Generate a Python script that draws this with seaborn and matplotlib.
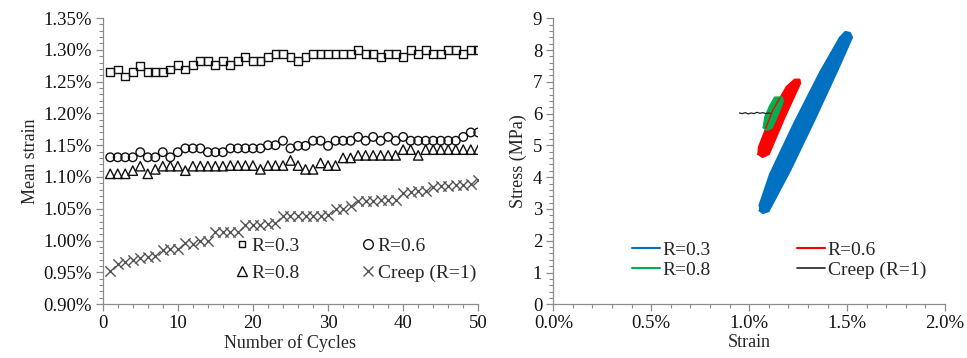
import matplotlib
matplotlib.use("Agg")
import matplotlib.pyplot as plt
import seaborn as sns
import pandas as pd
from matplotlib.lines import Line2D
from matplotlib.ticker import MultipleLocator, FuncFormatter

# ---------------- data: left panel (mean strain, %) ----------------
cycles = list(range(1, 51))
r03 = [1.265, 1.269, 1.258, 1.265, 1.274, 1.265, 1.265, 1.265, 1.269, 1.276,
       1.269, 1.276, 1.282, 1.282, 1.276, 1.282, 1.276, 1.282, 1.289, 1.282,
       1.282, 1.289, 1.294, 1.294, 1.289, 1.282, 1.289, 1.294, 1.294, 1.294,
       1.294, 1.294, 1.294, 1.300, 1.294, 1.294, 1.289, 1.294, 1.294, 1.289,
       1.300, 1.294, 1.300, 1.294, 1.294, 1.300, 1.300, 1.294, 1.300, 1.300]
r06 = [1.131, 1.131, 1.131, 1.131, 1.139, 1.131, 1.131, 1.139, 1.131, 1.139,
       1.145, 1.145, 1.145, 1.139, 1.139, 1.139, 1.145, 1.145, 1.145, 1.145,
       1.145, 1.150, 1.150, 1.157, 1.145, 1.149, 1.149, 1.157, 1.157, 1.149,
       1.157, 1.157, 1.157, 1.163, 1.157, 1.163, 1.157, 1.163, 1.157, 1.163,
       1.157, 1.157, 1.157, 1.157, 1.157, 1.157, 1.157, 1.163, 1.170, 1.170]
r08 = [1.105, 1.105, 1.105, 1.110, 1.117, 1.105, 1.112, 1.117, 1.117, 1.117,
       1.110, 1.117, 1.117, 1.117, 1.117, 1.117, 1.118, 1.118, 1.118, 1.118,
       1.112, 1.118, 1.118, 1.118, 1.126, 1.118, 1.112, 1.112, 1.122, 1.118,
       1.118, 1.130, 1.130, 1.134, 1.134, 1.134, 1.134, 1.134, 1.134, 1.143,
       1.143, 1.134, 1.143, 1.143, 1.143, 1.143, 1.143, 1.143, 1.143, 1.143]
creep = [0.952, 0.963, 0.967, 0.970, 0.973, 0.974, 0.975, 0.985, 0.986, 0.987,
         0.997, 0.995, 0.999, 0.999, 1.013, 1.013, 1.013, 1.014, 1.024, 1.025,
         1.025, 1.026, 1.027, 1.038, 1.038, 1.038, 1.038, 1.038, 1.038, 1.040,
         1.050, 1.050, 1.055, 1.063, 1.063, 1.063, 1.064, 1.064, 1.064, 1.075,
         1.076, 1.078, 1.078, 1.085, 1.086, 1.086, 1.087, 1.087, 1.089, 1.095]
labels = ["R=0.3", "R=0.6", "R=0.8", "Creep (R=1)"]

# ---------------- data: right panel (outline of loop bands) ----------------
blue_strain = [1.050, 1.070, 1.100, 1.210, 1.335, 1.455, 1.527, 1.515, 1.490, 1.462, 1.360, 1.228, 1.105, 1.050]
blue_stress = [2.95, 2.86, 2.92, 4.20, 5.80, 7.40, 8.40, 8.55, 8.58, 8.40, 7.30, 5.70, 4.10, 3.10]
red_strain = [1.045, 1.068, 1.102, 1.180, 1.262, 1.258, 1.232, 1.190, 1.120, 1.048, 1.045]
red_stress = [4.72, 4.62, 4.72, 5.85, 6.95, 7.08, 7.08, 6.85, 6.10, 4.95, 4.72]
green_strain = [1.072, 1.092, 1.118, 1.150, 1.175, 1.168, 1.130, 1.105, 1.080, 1.072]
green_stress = [5.56, 5.47, 5.56, 6.00, 6.40, 6.52, 6.52, 6.25, 5.90, 5.56]
creep_strain = [0.950, 0.965, 0.980, 0.995, 1.010, 1.025, 1.040, 1.055, 1.070, 1.085, 1.100, 1.108]
creep_stress = [6.02, 6.00, 6.03, 5.99, 6.02, 6.00, 6.04, 6.01, 6.03, 6.00, 6.02, 6.01]

c_blue, c_red, c_green, c_black = "#0070C0", "#FF0000", "#00B050", "#222222"
axis_gray = "#8C8C8C"

sns.set_style("ticks")
plt.rcParams["font.family"] = ["Liberation Serif", "DejaVu Serif"]
plt.rcParams["axes.edgecolor"] = axis_gray
plt.rcParams["axes.linewidth"] = 0.9

fig = plt.figure(figsize=(9.67, 3.58), dpi=100)
ax1 = fig.add_axes([0.1062, 0.1503, 0.3884, 0.7994])
ax2 = fig.add_axes([0.5722, 0.1500, 0.4051, 0.7990])

# ---------- left panel ----------
df = pd.DataFrame({"cycle": cycles * 4,
                   "strain": r03 + r06 + r08 + creep,
                   "series": sum([[l] * len(cycles) for l in labels], [])})
specs = {"R=0.3": dict(marker="s", s=32),
         "R=0.6": dict(marker="o", s=38),
         "R=0.8": dict(marker="^", s=46)}
for lab, kw in specs.items():
    sub = df[df.series == lab]
    sns.scatterplot(data=sub, x="cycle", y="strain", ax=ax1, color="k",
                    facecolor="none", edgecolor="#111111", linewidth=1.0,
                    legend=False, zorder=3, **kw)
sub = df[df.series == "Creep (R=1)"]
sns.scatterplot(data=sub, x="cycle", y="strain", ax=ax1, color="#555555",
                marker="x", s=55, edgecolor=None, linewidth=1.0, legend=False, zorder=3)

ax1.set_xlim(0, 50)
ax1.set_ylim(0.90, 1.35)
ax1.xaxis.set_major_locator(MultipleLocator(10))
ax1.xaxis.set_minor_locator(MultipleLocator(2))
ax1.yaxis.set_major_locator(MultipleLocator(0.05))
ax1.yaxis.set_minor_locator(MultipleLocator(0.01))
ax1.yaxis.set_major_formatter(FuncFormatter(lambda v, p: f"{v:.2f}%"))
ax1.set_xlabel("Number of Cycles", fontsize=13, labelpad=1)
ax1.set_ylabel("Mean strain", fontsize=13, labelpad=3)

h1 = [Line2D([], [], ls="none", marker="s", ms=4, mfc="none", mec="#111111", mew=1.0),
      Line2D([], [], ls="none", marker="^", ms=7, mfc="none", mec="#111111", mew=1.0),
      Line2D([], [], ls="none", marker="o", ms=7, mfc="none", mec="#111111", mew=1.0),
      Line2D([], [], ls="none", marker="x", ms=7.5, color="#555555", mew=1.0)]
ax1.legend(h1, ["R=0.3", "R=0.8", "R=0.6", "Creep (R=1)"], ncol=2, frameon=False,
           loc="upper left", bbox_to_anchor=(0.355, 0.235), borderaxespad=0,
           borderpad=0, fontsize=14, handlelength=0.6, handletextpad=0.2,
           columnspacing=3.2, labelspacing=0.5)

# ---------- right panel ----------
bands = [(blue_strain, blue_stress, c_blue), (red_strain, red_stress, c_red),
         (green_strain, green_stress, c_green)]
for xs, ys, col in bands:
    ax2.fill(xs, ys, color=col, lw=0, zorder=2)
    sns.lineplot(x=xs, y=ys, sort=False, estimator=None, ax=ax2, color=col,
                 lw=1.0, zorder=3, legend=False)
sns.lineplot(x=creep_strain, y=creep_stress, sort=False, estimator=None, ax=ax2,
             color=c_black, lw=0.9, zorder=4, legend=False)

ax2.set_xlim(0, 2.0)
ax2.set_ylim(0, 9)
ax2.xaxis.set_major_locator(MultipleLocator(0.5))
ax2.xaxis.set_minor_locator(MultipleLocator(0.1))
ax2.yaxis.set_major_locator(MultipleLocator(1))
ax2.yaxis.set_minor_locator(MultipleLocator(0.2))
ax2.xaxis.set_major_formatter(FuncFormatter(lambda v, p: f"{v:.1f}%"))
ax2.set_xlabel("Strain", fontsize=13, labelpad=1)
ax2.set_ylabel("Stress (MPa)", fontsize=13, labelpad=4)

h2 = [Line2D([], [], color=c_blue, lw=1.5), Line2D([], [], color=c_green, lw=1.5),
      Line2D([], [], color=c_red, lw=1.5), Line2D([], [], color=c_black, lw=1.2)]
ax2.legend(h2, ["R=0.3", "R=0.8", "R=0.6", "Creep (R=1)"], ncol=2, frameon=False,
           loc="upper left", bbox_to_anchor=(0.2, 0.22), borderaxespad=0,
           borderpad=0, fontsize=14, handlelength=1.45, handletextpad=0.15,
           columnspacing=4.4, labelspacing=0.1)

for ax in (ax1, ax2):
    sns.despine(ax=ax)
    ax.tick_params(which="major", direction="out", length=5, width=0.9,
                   color=axis_gray, labelsize=13.5, labelcolor="#111111", pad=3)
    ax.tick_params(which="minor", direction="out", length=3, width=0.8, color=axis_gray)

fig.savefig("out.png", dpi=100)
